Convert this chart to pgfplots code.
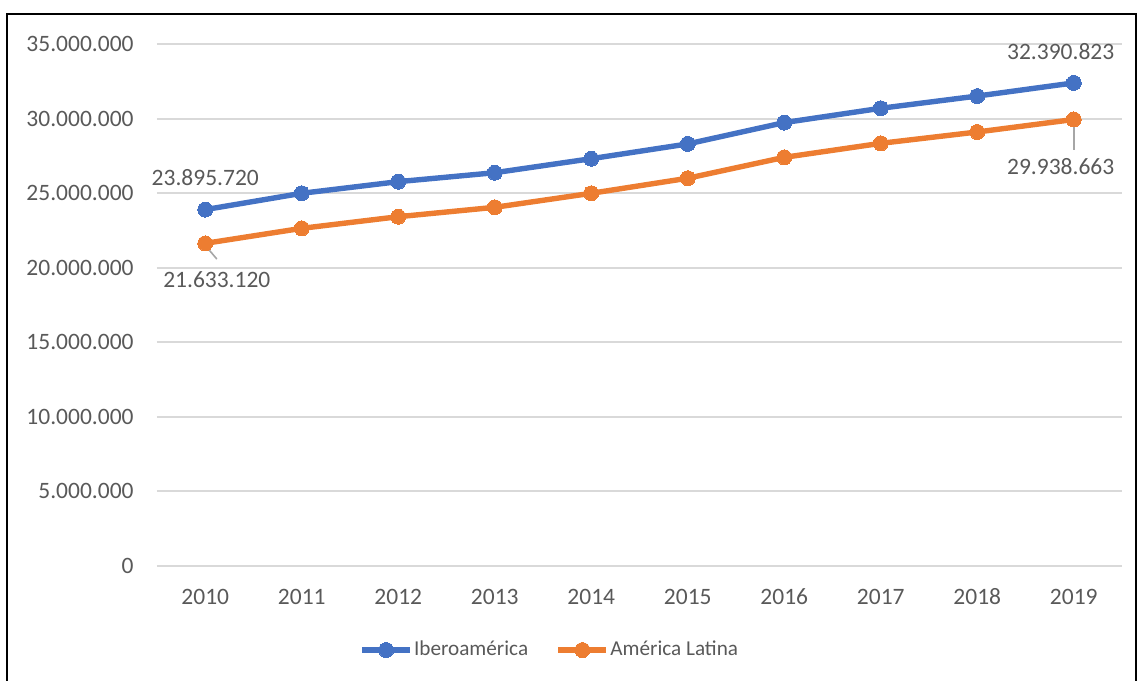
\documentclass[border=0pt]{standalone}
\usepackage{pgfplots}
\pgfplotsset{compat=1.18}
\usepackage{fontspec}
\setmainfont{Carlito}
\definecolor{ibero}{HTML}{4472C4}
\definecolor{amlat}{HTML}{ED7D31}
\definecolor{gridc}{HTML}{D9D9D9}
\definecolor{txt}{HTML}{595959}
\definecolor{lead}{HTML}{A6A6A6}
\newcommand{\cf}{\fontsize{11.75}{14}\selectfont}
\newcommand{\lf}{\fontsize{10.6}{13}\selectfont}
\begin{document}
\begin{tikzpicture}
\useasboundingbox (0pt,0pt) rectangle (568.5pt,340.5pt);
\draw[black, line width=1pt] (3.5pt,0pt) -- (3.5pt,333.5pt) -- (568pt,333.5pt) -- (568pt,0pt);
\begin{axis}[
  at={(78.5pt,57.5pt)}, anchor=south west,
  scale only axis, width=482.5pt, height=261pt,
  xmin=2009.5, xmax=2019.5, ymin=0, ymax=35000000,
  xtick={2010,2011,2012,2013,2014,2015,2016,2017,2018,2019},
  xticklabels={2010,2011,2012,2013,2014,2015,2016,2017,2018,2019},
  ytick={0,5000000,10000000,15000000,20000000,25000000,30000000,35000000},
  yticklabels={0,5.000.000,10.000.000,15.000.000,20.000.000,25.000.000,30.000.000,35.000.000},
  scaled y ticks=false,
  axis line style={draw=none},
  major tick length=0pt, tick style={draw=none},
  ymajorgrids, grid style={gridc, line width=1pt},
  xticklabel style={font=\cf, text=txt, anchor=center, inner sep=0pt, yshift=-15.5pt},
  yticklabel style={font=\cf, text=txt, anchor=east, inner sep=0pt, xshift=-11.5pt},
  clip=false,
  legend columns=2,
  legend style={at={(0.2094,-0.161)}, anchor=west, draw=none, fill=none, inner sep=0pt,
    font=\lf, text=txt, nodes={inner sep=0.6pt},
    /tikz/every even column/.append style={column sep=13.2pt}},
  legend image code/.code={\draw[mark repeat=2,mark phase=2,#1] plot coordinates {(0pt,0pt) (12pt,0pt) (24pt,0pt)};},
]
\addplot[ibero, line width=2.7pt, mark=*, mark size=3.75pt, mark options={line width=0pt, fill=ibero}] coordinates {
(2010,23895720) (2011,24990000) (2012,25770000) (2013,26370000) (2014,27310000)
(2015,28300000) (2016,29730000) (2017,30690000) (2018,31510000) (2019,32390823)};
\addlegendentry{Iberoamérica}
\addplot[amlat, line width=2.7pt, mark=*, mark size=3.75pt, mark options={line width=0pt, fill=amlat}] coordinates {
(2010,21633120) (2011,22640000) (2012,23420000) (2013,24050000) (2014,24990000)
(2015,26000000) (2016,27400000) (2017,28340000) (2018,29100000) (2019,29938663)};
\addlegendentry{América Latina}
\draw[lead, line width=0.8pt] (axis cs:2010,21500000) -- (axis cs:2010.12,20580000);
\draw[lead, line width=0.8pt] (axis cs:2019,29700000) -- (axis cs:2019,27890000);
\node[font=\cf, text=txt, anchor=center, inner sep=0pt] at (axis cs:2010,26020000) {23.895.720};
\node[font=\cf, text=txt, anchor=center, inner sep=0pt] at (axis cs:2010.12,19180000) {21.633.120};
\node[font=\cf, text=txt, anchor=center, inner sep=0pt] at (axis cs:2018.865,34460000) {32.390.823};
\node[font=\cf, text=txt, anchor=center, inner sep=0pt] at (axis cs:2018.865,26750000) {29.938.663};
\end{axis}
\end{tikzpicture}
\end{document}
